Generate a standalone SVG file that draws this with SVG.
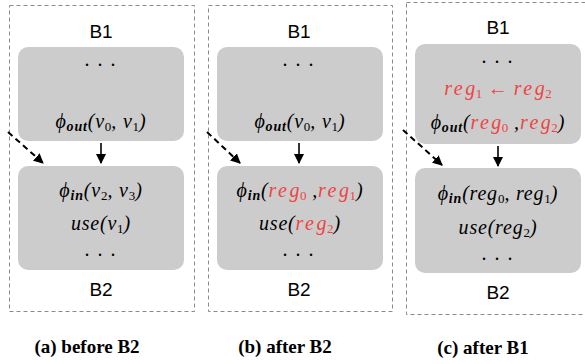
<svg xmlns="http://www.w3.org/2000/svg" width="585" height="364" viewBox="0 0 585 364">
<style>
.frame{fill:none;stroke:#8a8a8a;stroke-width:1;stroke-dasharray:4 3}
.blk{fill:#cccccc;stroke:none}
.lbl{font-family:"Liberation Sans",Arial,sans-serif;font-size:19px;fill:#000;text-anchor:middle}
.m{font-family:"Liberation Serif","Times New Roman",serif;font-style:italic;font-size:20px;fill:#000;text-anchor:middle;letter-spacing:0.8px}
.r{fill:#ee4444;letter-spacing:2.5px}
.ra{fill:#ee4444;letter-spacing:0.5px}
.s{font-size:13px;font-style:normal;letter-spacing:0}
.r.s,.ra.s{letter-spacing:0}
.si{font-size:14px;font-weight:bold}
.dots{font-family:"Liberation Serif",serif;font-size:20px;fill:#000;text-anchor:middle;letter-spacing:8px}
.cap{font-family:"Liberation Serif","Times New Roman",serif;font-weight:bold;font-size:19px;fill:#000;text-anchor:middle}
.ar{stroke:#000;stroke-width:1.6;fill:none}
.da{stroke:#000;stroke-width:2;fill:none;stroke-dasharray:6 4}
</style>
<defs>
<marker id="ah2" viewBox="0 0 10 10" refX="9" refY="5" markerWidth="10" markerHeight="10" orient="auto" markerUnits="userSpaceOnUse">
<path d="M0,0 L10,5 L0,10 z" fill="#000"/>
</marker>
</defs>

<g id="panel-a">
<rect class="frame" x="9.5" y="5.5" width="185" height="306"/>
<text class="lbl" x="101" y="38">B1</text>
<g id="a-B1">
<rect class="blk" x="18" y="47" width="166" height="94" rx="10"/>
<text class="dots" x="104" y="66">...</text>
<text class="m" x="101" y="128">ϕ<tspan class="si" dy="3">out</tspan><tspan dy="-3">(v</tspan><tspan class="s" dy="3">0</tspan><tspan dy="-3">, v</tspan><tspan class="s" dy="3">1</tspan><tspan dy="-3">)</tspan></text>
</g>
<g id="a-B2">
<rect class="blk" x="18" y="166" width="166" height="104" rx="10"/>
<text class="m" x="101" y="197">ϕ<tspan class="si" dy="3">in</tspan><tspan dy="-3">(v</tspan><tspan class="s" dy="3">2</tspan><tspan dy="-3">, v</tspan><tspan class="s" dy="3">3</tspan><tspan dy="-3">)</tspan></text>
<text class="m" x="101" y="230">use(v<tspan class="s" dy="3">1</tspan><tspan dy="-3">)</tspan></text>
<text class="dots" x="104" y="256">...</text>
</g>
<text class="lbl" x="101" y="296">B2</text>
<text class="cap" x="87" y="353">(a) before B2</text>
</g>

<g id="panel-b">
<rect class="frame" x="208.5" y="5.5" width="184" height="306"/>
<text class="lbl" x="299" y="38">B1</text>
<g id="b-B1">
<rect class="blk" x="217" y="47" width="166" height="94" rx="10"/>
<text class="dots" x="302" y="66">...</text>
<text class="m" x="300" y="128">ϕ<tspan class="si" dy="3">out</tspan><tspan dy="-3">(v</tspan><tspan class="s" dy="3">0</tspan><tspan dy="-3">, v</tspan><tspan class="s" dy="3">1</tspan><tspan dy="-3">)</tspan></text>
</g>
<g id="b-B2">
<rect class="blk" x="217" y="166" width="166" height="104" rx="10"/>
<text class="m" x="300" y="197">ϕ<tspan class="si" dy="3">in</tspan><tspan dy="-3">(</tspan><tspan class="r">re</tspan><tspan class="ra">g</tspan><tspan class="s ra" dy="3">0</tspan><tspan dy="-3"> ,</tspan><tspan class="r">re</tspan><tspan class="ra">g</tspan><tspan class="s ra" dy="3">1</tspan><tspan dy="-3">)</tspan></text>
<text class="m" x="300" y="230">use(<tspan class="r">re</tspan><tspan class="ra">g</tspan><tspan class="s ra" dy="3">2</tspan><tspan dy="-3">)</tspan></text>
<text class="dots" x="302" y="256">...</text>
</g>
<text class="lbl" x="299" y="296">B2</text>
<text class="cap" x="285" y="353">(b) after B2</text>
</g>

<g id="panel-c">
<rect class="frame" x="406.5" y="2.5" width="184" height="312"/>
<text class="lbl" x="498" y="34">B1</text>
<g id="c-B1">
<rect class="blk" x="415" y="44" width="166" height="100" rx="10"/>
<text class="dots" x="501" y="63">...</text>
<text class="m" x="498" y="95"><tspan class="r">re</tspan><tspan class="ra">g</tspan><tspan class="s ra" dy="3">1</tspan><tspan class="ra" dy="-3"> ← </tspan><tspan class="r">re</tspan><tspan class="ra">g</tspan><tspan class="s ra" dy="3">2</tspan></text>
<text class="m" x="498" y="129">ϕ<tspan class="si" dy="3">out</tspan><tspan dy="-3">(</tspan><tspan class="r">re</tspan><tspan class="ra">g</tspan><tspan class="s ra" dy="3">0</tspan><tspan dy="-3"> ,</tspan><tspan class="r">re</tspan><tspan class="ra">g</tspan><tspan class="s ra" dy="3">2</tspan><tspan dy="-3">)</tspan></text>
</g>
<g id="c-B2">
<rect class="blk" x="415" y="168" width="166" height="105" rx="10"/>
<text class="m" x="498" y="200">ϕ<tspan class="si" dy="3">in</tspan><tspan dy="-3">(reg</tspan><tspan class="s" dy="3">0</tspan><tspan dy="-3">, reg</tspan><tspan class="s" dy="3">1</tspan><tspan dy="-3">)</tspan></text>
<text class="m" x="498" y="234">use(reg<tspan class="s" dy="3">2</tspan><tspan dy="-3">)</tspan></text>
<text class="dots" x="501" y="260">...</text>
</g>
<text class="lbl" x="498" y="299">B2</text>
<text class="cap" x="483" y="354">(c) after B1</text>
</g>

<g id="connectors">
<line class="ar" x1="101" y1="143" x2="101" y2="163" marker-end="url(#ah2)"/>
<line class="ar" x1="299" y1="143" x2="299" y2="163" marker-end="url(#ah2)"/>
<line class="ar" x1="498" y1="146" x2="498" y2="166" marker-end="url(#ah2)"/>
<line class="da" x1="8" y1="132" x2="43" y2="163" marker-end="url(#ah2)"/>
<line class="da" x1="207" y1="132" x2="240" y2="163" marker-end="url(#ah2)"/>
<line class="da" x1="403" y1="130" x2="442" y2="165" marker-end="url(#ah2)"/>
</g>
</svg>
